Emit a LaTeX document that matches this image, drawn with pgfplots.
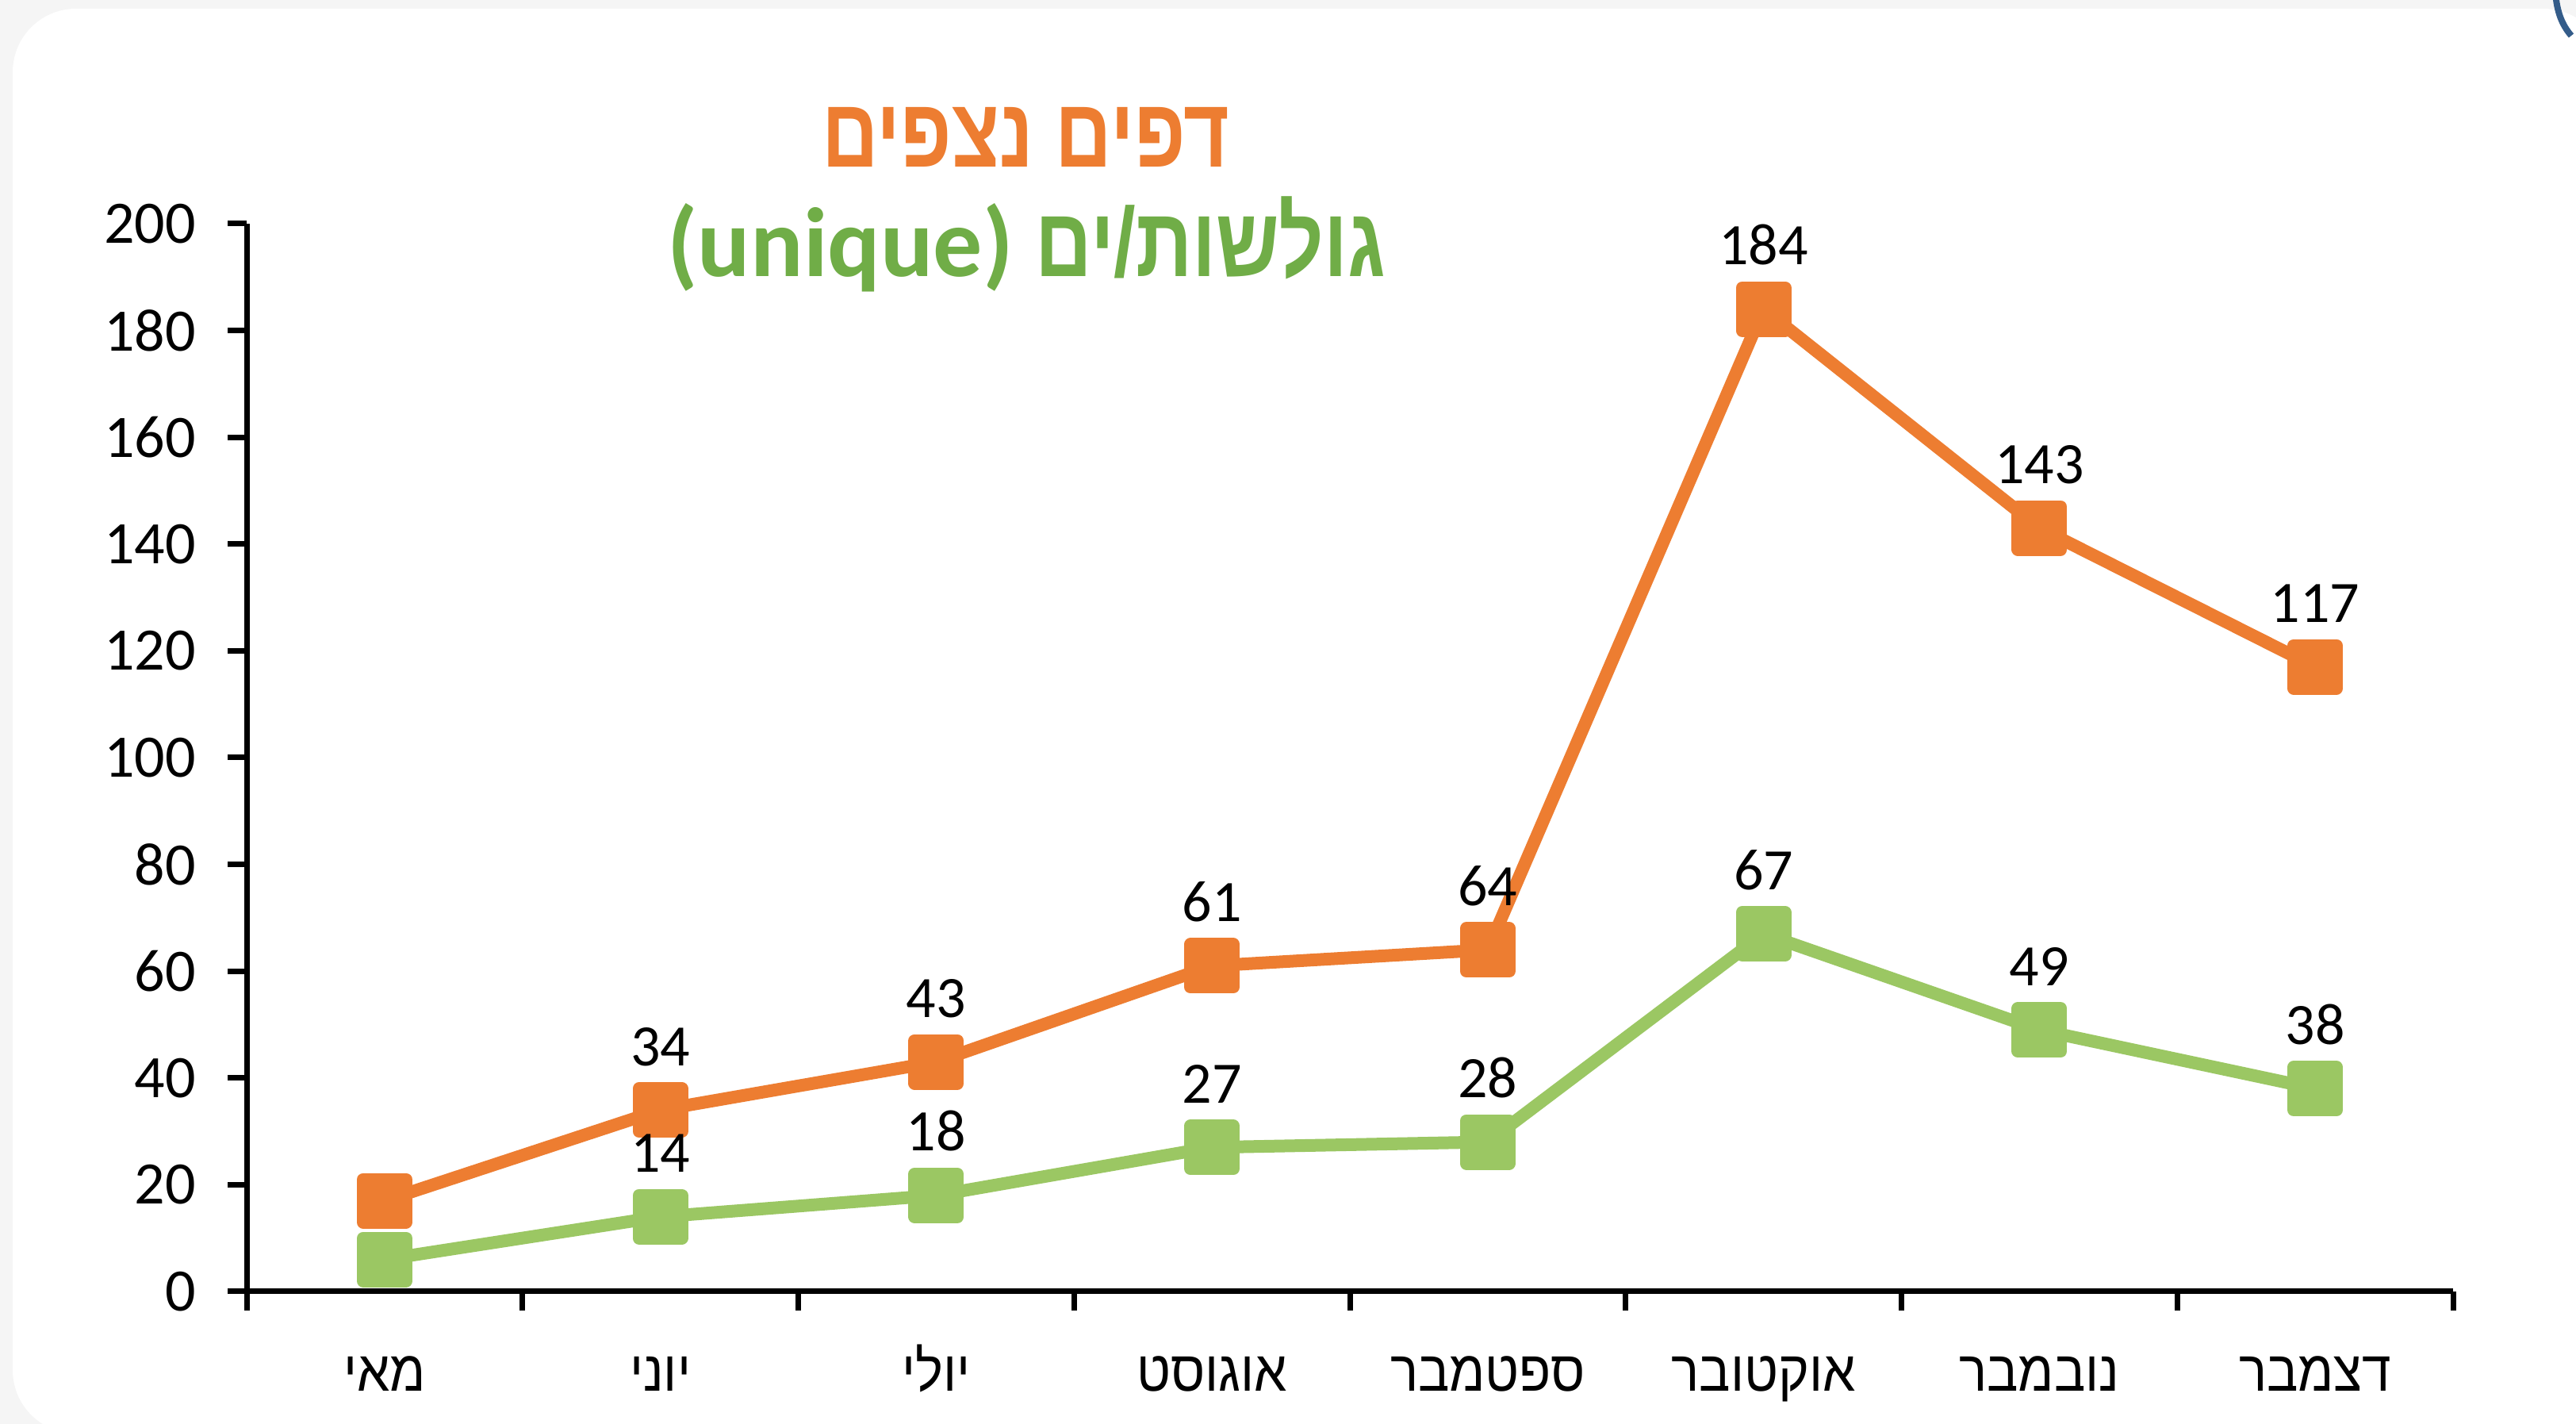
\documentclass[border=0pt]{standalone}
\usepackage{pgfplots}
\pgfplotsset{compat=1.18}
\usepackage{fontspec}
\setmainfont{Carlito}
\newfontfamily\hebfont[Script=Hebrew, FakeStretch=0.915]{Liberation Sans}
\newfontfamily\hebtitle[Script=Hebrew, FakeStretch=0.8]{Liberation Sans}
\TeXXeTstate=1
\definecolor{orangeS}{HTML}{ED7D31}
\definecolor{greenS}{HTML}{9BC763}
\definecolor{greenT}{HTML}{70AD47}
\definecolor{bgGrey}{HTML}{F5F5F5}
\definecolor{arcBlue}{HTML}{345C89}
\begin{document}
\begin{tikzpicture}
\useasboundingbox (0,0) rectangle (812pt,448.75pt);
\begin{scope}
\clip (0,0) rectangle (812pt,448.75pt);
\fill[bgGrey] (0,0) rectangle (812pt,448.75pt);
\fill[white, rounded corners=20pt] (4pt,-3pt) rectangle (821.75pt,446pt);
\draw[arcBlue, line width=2pt] (805.5pt,451pt) .. controls (806pt,445pt) and (807.5pt,441pt) .. (810.5pt,437.5pt);
\end{scope}
\begin{axis}[
  at={(77.75pt,41.75pt)}, anchor=south west,
  scale only axis, width=695.5pt, height=336.5pt,
  xmin=-0.5, xmax=7.5, ymin=0, ymax=200,
  clip=false,
  axis x line*=bottom, axis y line*=left,
  axis line style={line width=1.75pt, black},
  tick style={line width=1.75pt, black},
  major tick length=6pt,
  tick align=outside,
  ytick={0,20,...,200},
  /pgf/number format/assume math mode=true,
  yticklabel style={font=\fontsize{19}{21}\selectfont, text=black, xshift=-6.5pt},
  xtick={-0.5,0.5,...,7.5},
  xticklabels={{\beginR מאי\endR},{\beginR יוני\endR},{\beginR יולי\endR},{\beginR אוגוסט\endR},{\beginR ספטמבר\endR},{\beginR אוקטובר\endR},{\beginR נובמבר\endR},{\beginR דצמבר\endR},{}},
  xticklabel style={font=\hebfont\fontsize{18}{20}\selectfont, text=black, anchor=base, xshift=43.47pt, yshift=-25.5pt},
  every node near coord/.append style={font=\fontsize{18.5}{20}\selectfont, text=black, anchor=base, yshift=14pt, inner sep=0pt},
]
\addplot[orangeS, line width=4pt, line join=round, mark=square*, mark size=6.75pt,
  mark options={solid, draw=none, fill=orangeS},
  nodes near coords, point meta=explicit symbolic]
  coordinates {(0,17) [] (1,34) [34] (2,43) [43] (3,61) [61] (4,64) [64] (5,184) [184] (6,143) [143] (7,117) [117]};
\addplot[greenS, line width=4pt, line join=round, mark=square*, mark size=6.75pt,
  mark options={solid, draw=none, fill=greenS},
  nodes near coords, point meta=explicit symbolic]
  coordinates {(0,6) [] (1,14) [14] (2,18) [18] (3,27) [27] (4,28) [28] (5,67) [67] (6,49) [49] (7,38) [38]};
\end{axis}
\node[anchor=base, text=orangeS, font=\hebtitle\bfseries\fontsize{31}{36}\selectfont] at (323.25pt,396pt) {\beginR דפים נצפים\endR};
\node[anchor=base, text=greenT, font=\bfseries\fontsize{31}{36}\selectfont] at (323.5pt,361.5pt) {(unique) {\hebtitle\beginR גולשות/ים\endR}};
\end{tikzpicture}
\end{document}
